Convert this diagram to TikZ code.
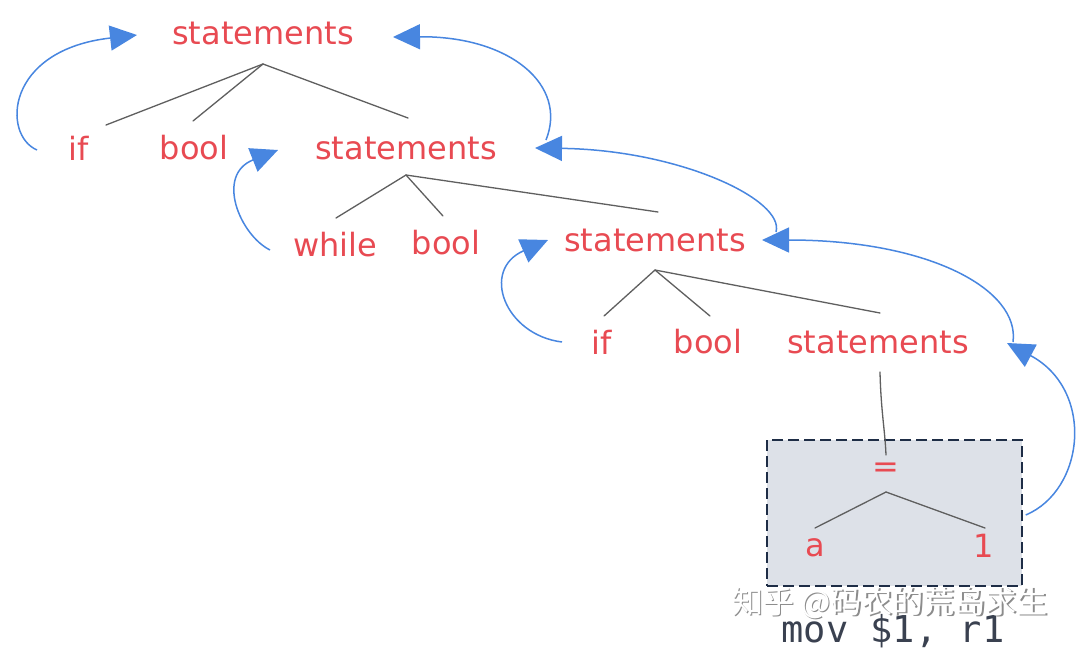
\documentclass[tikz,border=0pt]{standalone}
\usepackage{fontspec}
\setmainfont{DejaVu Sans}
\setmonofont{DejaVu Sans Mono}
\newfontfamily\cjk{Noto Sans CJK SC}
\usetikzlibrary{arrows.meta,calc}
\definecolor{tred}{RGB}{232,74,82}
\definecolor{tblue}{RGB}{72,134,224}
\definecolor{tgray}{RGB}{95,95,95}
\definecolor{boxfill}{RGB}{221,225,232}
\definecolor{boxline}{RGB}{30,45,70}
\definecolor{codegray}{RGB}{58,65,80}
\begin{document}
\begin{tikzpicture}[x=1pt,y=-1pt,
  word/.style={text=tred, font=\fontsize{32}{36}\selectfont, inner sep=0pt},
  branch/.style={draw=tgray, line width=1.3pt, line cap=round},
  back/.style={draw=tblue, line width=1.5pt, -{Triangle[length=27pt,width=25pt]}},
  framebox/.style={draw=boxline, fill=boxfill, line width=1.5pt, dash pattern=on 11pt off 5pt, minimum width=255pt, minimum height=146pt, inner sep=0pt},
  code/.style={text=codegray, font=\ttfamily\fontsize{37}{40}\selectfont, inner sep=0pt},
  wmark/.style={font=\cjk\fontsize{31}{34}\selectfont, inner sep=0pt}
]
\useasboundingbox (0,0) rectangle (1080,654);
\fill[white] (0,0) rectangle (1080,654);

% box
\node[framebox] (box) at (894.5,513) {};

% words
\node[word] (s1) at (263,33) {statements};
\node[word] (if1) at (79,148) {if};
\node[word] (bool1) at (194,148) {bool};
\node[word] (s2) at (406,148) {statements};
\node[word] (while) at (335,245) {while};
\node[word] (bool2) at (446,243) {bool};
\node[word] (s3) at (655,240) {statements};
\node[word] (if2) at (602,342) {if};
\node[word] (bool3) at (708,342) {bool};
\node[word] (s4) at (878,342) {statements};
\node[word] (eq) at (886,470) {=};
\node[word] (a) at (815,548) {a};
\node[word] (one) at (984,546) {1};
\node[code] (mov) at (893,631) {mov \$1, r1};

% watermark
\node[wmark, text=black!45] at (891.5,604.5) {知乎 @码农的荒岛求生};
\node[wmark, text=white] (wm) at (890,603) {知乎 @码农的荒岛求生};

% tree branches
\draw[branch] ($(s1)+(0,31)$) -- ($(if1)+(27,-23)$);
\draw[branch] ($(s1)+(0,31)$) -- ($(bool1)+(-1,-27)$);
\draw[branch] ($(s1)+(0,31)$) -- ($(s2)+(2,-30)$);
\draw[branch] ($(s2)+(0,27)$) -- ($(while)+(1,-27)$);
\draw[branch] ($(s2)+(0,27)$) -- ($(bool2)+(-3,-27)$);
\draw[branch] ($(s2)+(0,27)$) -- ($(s3)+(3,-28)$);
\draw[branch] ($(s3)+(0,30)$) -- ($(if2)+(2,-26)$);
\draw[branch] ($(s3)+(0,30)$) -- ($(bool3)+(2,-26)$);
\draw[branch] ($(s3)+(0,30)$) -- ($(s4)+(2,-29)$);
\draw[branch] ($(s4)+(2,30)$) .. controls ($(s4)+(3,70)$) and ($(eq)+(-1,-40)$) .. ($(eq)+(0,-15)$);
\draw[branch] ($(eq)+(0,22)$) -- ($(a)+(0,-20)$);
\draw[branch] ($(eq)+(0,22)$) -- ($(one)+(1,-18)$);

% back arrows
\draw[back] ($(if1)+(-42,2)$) .. controls (2,135) and (5,50) .. ($(s1)+(-126,2)$);
\draw[back] ($(s2)+(140,-8)$) .. controls (568,85) and (510,36) .. ($(s1)+(130,4)$);
\draw[back] ($(while)+(-65,5)$) .. controls (240,235) and (215,175) .. ($(s2)+(-128,2)$);
\draw[back] ($(s3)+(121,-8)$) .. controls (785,200) and (680,150) .. ($(s2)+(129,0)$);
\draw[back] ($(if2)+(-40,0)$) .. controls (505,335) and (480,270) .. ($(s3)+(-107,0)$);
\draw[back] ($(s4)+(135,0)$) .. controls (1020,290) and (930,240) .. ($(s3)+(107,0)$);
\draw[back] ($(box.east)+(3,2)$) .. controls (1085,490) and (1095,390) .. ($(s4)+(129,1)$);
\end{tikzpicture}
\end{document}
